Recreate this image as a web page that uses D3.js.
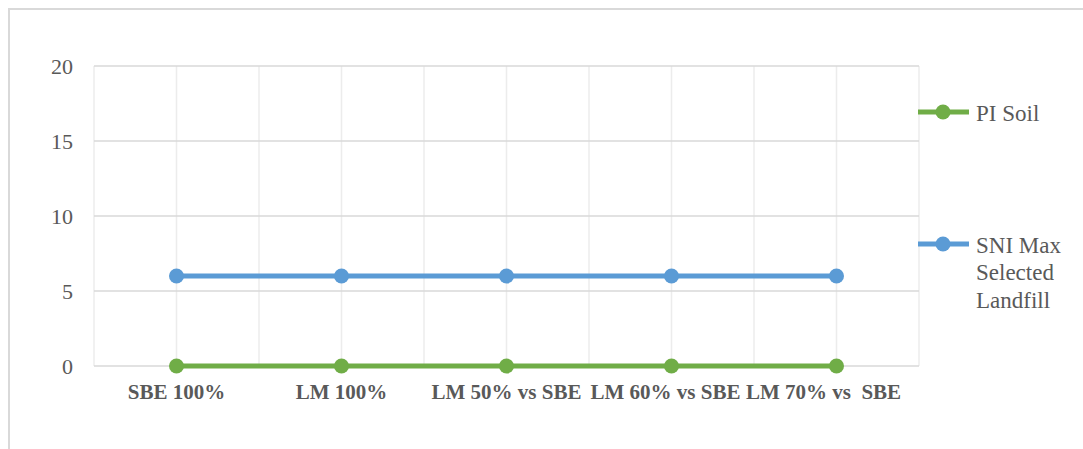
<!DOCTYPE html>
<html>
<head>
<meta charset="utf-8">
<script src="https://cdn.jsdelivr.net/npm/d3@7"></script>
<style>
  body { margin: 0; background: #fff; }
  svg { display: block; }
  text { font-family: "Liberation Serif", "Times New Roman", serif; }
</style>
</head>
<body>
<svg width="1083" height="449"></svg>
<script>
const categories = ["SBE 100%", "LM 100%", "LM 50% vs SBE", "LM 60% vs SBE", "LM 70% vs  SBE"];
const piSoil = [0, 0, 0, 0, 0];
const sniMax = [6, 6, 6, 6, 6];
const yTicks = [0, 5, 10, 15, 20];
const seriesNames = ["PI Soil", ["SNI Max", "Selected", "Landfill"]];

const svg = d3.select("svg");
const margin = { top: 66, right: 164, bottom: 83, left: 94 };
const innerWidth = 1083 - margin.left - margin.right;
const innerHeight = 449 - margin.top - margin.bottom;

const green = "#70AD47";
const blue = "#5B9BD5";
const textColor = "#595959";
const serif = "Liberation Serif, Times New Roman, serif";

// outer chart frame (partly cut off at the edges)
svg.append("path")
  .attr("d", "M9,449 V9 H1083")
  .attr("fill", "none")
  .attr("stroke", "#d9d9d9")
  .attr("stroke-width", 2);

const x = d3.scaleBand().domain(categories).range([0, innerWidth]);
const y = d3.scaleLinear().domain([0, 20]).range([innerHeight, 0]);

const g = svg.append("g").attr("transform", `translate(${margin.left},${margin.top})`);

// vertical gridlines at band edges and centres
const vLines = [];
categories.forEach(c => { vLines.push(x(c)); vLines.push(x(c) + x.bandwidth() / 2); });
vLines.push(innerWidth);
g.selectAll(".vgrid").data(vLines).enter().append("line")
  .attr("x1", d => d).attr("x2", d => d)
  .attr("y1", 0).attr("y2", innerHeight)
  .attr("stroke", "#ececec").attr("stroke-width", 1.5);

// horizontal gridlines
g.selectAll(".hgrid").data(yTicks).enter().append("line")
  .attr("x1", 0).attr("x2", innerWidth)
  .attr("y1", d => y(d)).attr("y2", d => y(d))
  .attr("stroke", "#d9d9d9").attr("stroke-width", 1.5);

// y axis labels
const yAxis = g.append("g")
  .call(d3.axisLeft(y).tickValues(yTicks).tickSize(0).tickPadding(21));
yAxis.attr("font-family", serif).attr("font-size", 22);
yAxis.select(".domain").remove();
yAxis.selectAll("text").attr("fill", textColor);

// x axis labels
const xAxis = g.append("g")
  .attr("transform", `translate(0,${innerHeight})`)
  .call(d3.axisBottom(x).tickSize(0).tickPadding(18));
xAxis.attr("font-family", serif).attr("font-size", 21).attr("font-weight", "bold");
xAxis.select(".domain").remove();
xAxis.selectAll("text")
  .attr("fill", textColor)
  .style("white-space", "pre")
  // the last two labels crowd each other, so they sit a little left of centre
  .attr("dx", (d, i) => i === 3 ? -6 : i === 4 ? -13 : 0);

const cx = c => x(c) + x.bandwidth() / 2;
const series = [
  { values: sniMax, color: blue },
  { values: piSoil, color: green }
];
const line = d3.line().x((d, i) => cx(categories[i])).y(d => y(d));

series.forEach(s => {
  g.append("path")
    .attr("d", line(s.values))
    .attr("fill", "none")
    .attr("stroke", s.color)
    .attr("stroke-width", 5);
  g.selectAll(null).data(s.values).enter().append("circle")
    .attr("cx", (d, i) => cx(categories[i]))
    .attr("cy", d => y(d))
    .attr("r", 7.5)
    .attr("fill", s.color);
});

// legend
const legend = svg.append("g");
const legendItems = [
  { name: seriesNames[0], color: green, y: 112 },
  { name: seriesNames[1], color: blue, y: 244 }
];
legendItems.forEach(item => {
  legend.append("line")
    .attr("x1", 918).attr("x2", 969)
    .attr("y1", item.y).attr("y2", item.y)
    .attr("stroke", item.color).attr("stroke-width", 5);
  legend.append("circle")
    .attr("cx", 943).attr("cy", item.y).attr("r", 7.5)
    .attr("fill", item.color);
  const lines = Array.isArray(item.name) ? item.name : [item.name];
  const t = legend.append("text")
    .attr("x", 976)
    .attr("y", item.y + 8.5)
    .attr("font-family", serif)
    .attr("font-size", 23)
    .attr("fill", textColor);
  lines.forEach((l, i) => {
    t.append("tspan").attr("x", 976).attr("dy", i === 0 ? 0 : 27.5).text(l);
  });
});
</script>
</body>
</html>
